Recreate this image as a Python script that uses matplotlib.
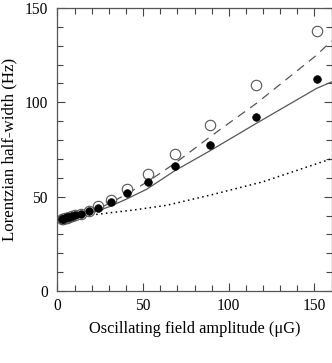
import matplotlib
matplotlib.use("Agg")
import matplotlib.pyplot as plt
from matplotlib.ticker import MultipleLocator

# Data
amp_pts = [2.5, 3.5, 4.5, 5.5, 7.0, 8.5, 10.5, 13.7, 18.2, 23.8, 31.0, 40.3, 52.7, 68.6, 89.2, 116.2, 151.6]
open_vals = [38.0, 38.2, 38.5, 38.8, 39.2, 39.6, 40.2, 41.0, 42.6, 44.8, 48.3, 54.0, 61.8, 72.8, 88.1, 109.2, 137.8]
filled_vals = [38.2, 38.4, 38.7, 39.0, 39.3, 39.7, 40.3, 40.8, 42.4, 44.1, 47.3, 51.9, 57.8, 66.2, 77.5, 92.4, 112.2]

dash_x = [0, 10, 20, 30, 40, 52.7, 68.6, 89.2, 116.2, 151.3, 160]
dash_y = [37.5, 39.5, 42.3, 46.2, 51.2, 58.0, 67.7, 81.8, 99.5, 125.0, 132.6]

solid_x = [0, 10, 20, 30, 40, 52, 68.6, 89.2, 116.2, 151.3, 160]
solid_y = [37.5, 39.2, 41.4, 44.6, 48.6, 53.9, 63.8, 74.4, 88.9, 107.4, 110.8]

dot_x = [0, 20, 44.2, 63.6, 90, 120, 160]
dot_y = [37.5, 40.3, 42.9, 45.4, 51.0, 57.9, 70.1]

x_label = "Oscillating field amplitude (\u03bcG)"
y_label = "Lorentzian half-width (Hz)"

plt.rcParams['font.family'] = ['Liberation Serif', 'DejaVu Serif']

fig = plt.figure(figsize=(3.32, 3.63), dpi=100)
ax = fig.add_axes([57.5/332, 72/363, (331.5-57.5)/332, (355-72)/363])

ax.plot(dash_x, dash_y, color='#555555', lw=0.9, dashes=(7, 5))
ax.plot(solid_x, solid_y, color='#555555', lw=0.9)
ax.plot(dot_x, dot_y, color='black', lw=1.1, linestyle=(0, (1, 2.2)))

ax.plot(amp_pts, open_vals, 'o', ms=7.5, mfc='white', mec='#555555', mew=0.8, zorder=3)
ax.plot(amp_pts, filled_vals, 'o', ms=5.5, mfc='black', mec='black', mew=0.5, zorder=4)

ax.set_xlim(0, 160)
ax.set_ylim(0, 150)
ax.xaxis.set_major_locator(MultipleLocator(50))
ax.xaxis.set_minor_locator(MultipleLocator(10))
ax.yaxis.set_major_locator(MultipleLocator(50))
ax.yaxis.set_minor_locator(MultipleLocator(10))
ax.tick_params(which='both', direction='in', top=True, right=True, colors='#444444',
               labelcolor='black', labelsize=11.2, width=0.8)
ax.tick_params(which='major', length=6)
ax.tick_params(which='minor', length=4)
ax.tick_params(axis='y', which='major', pad=7)
ax.tick_params(axis='x', which='major', pad=5)
for s in ax.spines.values():
    s.set_color('#555555')
    s.set_linewidth(0.9)

ax.set_xlabel(x_label, fontsize=11.8, labelpad=5)
ax.set_ylabel(y_label, fontsize=12.2, labelpad=5)

fig.savefig("out.png", dpi=100)
